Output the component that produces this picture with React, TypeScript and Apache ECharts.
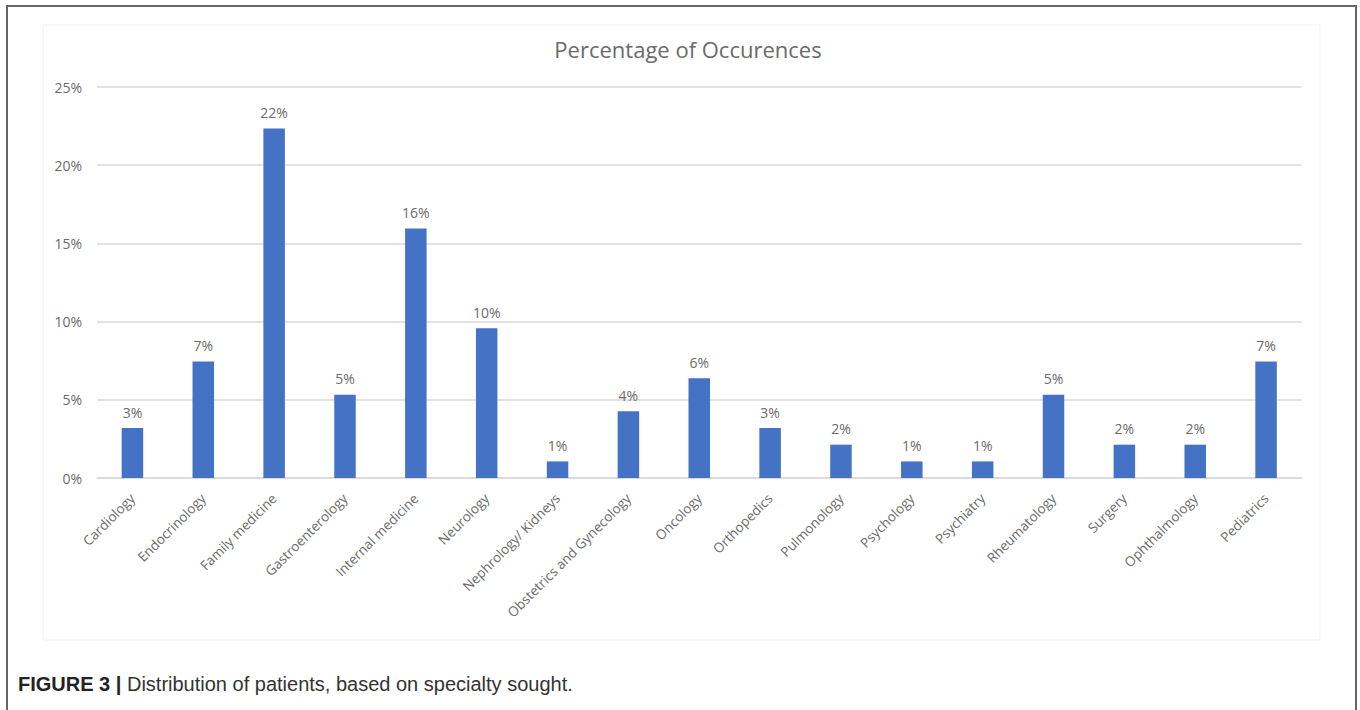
import React, { useEffect, useRef } from "react";
import * as echarts from "echarts";

const categories = [
  "Cardiology",
  "Endocrinology",
  "Family medicine",
  "Gastroenterology",
  "Internal medicine",
  "Neurology",
  "Nephrology/ Kidneys",
  "Obstetrics and Gynecology",
  "Oncology",
  "Orthopedics",
  "Pulmonology",
  "Psychology",
  "Psychiatry",
  "Rheumatology",
  "Surgery",
  "Ophthalmology",
  "Pediatrics",
];

const percentages = [
  3.19, 7.45, 22.34, 5.32, 15.96, 9.57, 1.06, 4.26, 6.38, 3.19, 2.13, 1.06,
  1.06, 5.32, 2.13, 2.13, 7.45,
];

const yTicks = [0, 5, 10, 15, 20, 25];

const chartTitle = "Percentage of Occurences";
const captionBold = "FIGURE 3 |";
const captionText = " Distribution of patients, based on specialty sought.";

export default function App() {
  const ref = useRef<HTMLDivElement>(null);

  useEffect(() => {
    document.body.style.margin = "0";
    if (!ref.current) return;
    const chart = echarts.init(ref.current, null, { renderer: "svg" });
    const gray = "#6b6b6b";
    const font = "'Open Sans', sans-serif";
    chart.setOption({
      animation: false,
      backgroundColor: "#ffffff",
      title: {
        text: chartTitle,
        left: 683,
        top: 33,
        textAlign: "center",
        textStyle: {
          fontFamily: font,
          fontSize: 22,
          fontWeight: "normal",
          color: "#6a6a6a",
        },
      },
      grid: {
        left: 97,
        right: 58.5,
        top: 87,
        bottom: 232,
        containLabel: false,
      },
      xAxis: {
        type: "category",
        data: categories,
        axisLine: { show: true, lineStyle: { color: "#d9d9d9", width: 1.5 } },
        axisTick: { show: false },
        axisLabel: {
          rotate: 45,
          interval: 0,
          margin: 18,
          color: gray,
          fontFamily: font,
          fontSize: 13.5,
        },
      },
      yAxis: {
        type: "value",
        min: yTicks[0],
        max: yTicks[yTicks.length - 1],
        interval: 5,
        axisLine: { show: false },
        axisTick: { show: false },
        axisLabel: {
          margin: 15,
          color: gray,
          fontFamily: font,
          fontSize: 14,
          formatter: (v: number) => `${v}%`,
        },
        splitLine: { lineStyle: { color: "#d9d9d9", width: 1.5 } },
      },
      series: [
        {
          type: "bar",
          data: percentages,
          barWidth: 21.5,
          itemStyle: { color: "#4472c4" },
          label: {
            show: true,
            position: "top",
            distance: 9,
            color: gray,
            fontFamily: font,
            fontSize: 14,
            formatter: (p: any) => `${Math.round(p.value)}%`,
          },
        },
      ],
      graphic: [
        {
          type: "rect",
          shape: { x: 43, y: 25, width: 1277, height: 615 },
          style: { fill: "none", stroke: "#f1f1f1", lineWidth: 1 },
          silent: true,
        },
        {
          type: "rect",
          shape: { x: 7, y: 6, width: 1349, height: 720 },
          style: { fill: "none", stroke: "#666666", lineWidth: 2 },
          silent: true,
        },
        {
          type: "text",
          x: 18,
          y: 684,
          style: {
            text: `{b|${captionBold}}${captionText}`,
            fontFamily: "'Liberation Sans', Arial, sans-serif",
            fontSize: 20,
            fill: "#333333",
            verticalAlign: "middle",
            rich: {
              b: {
                fontFamily: "'Liberation Sans', Arial, sans-serif",
                fontSize: 20,
                fontWeight: "bold",
                fill: "#222222",
              },
            },
          },
          silent: true,
        },
      ],
    });
    return () => chart.dispose();
  }, []);

  return <div ref={ref} style={{ width: 1360, height: 710 }} />;
}
